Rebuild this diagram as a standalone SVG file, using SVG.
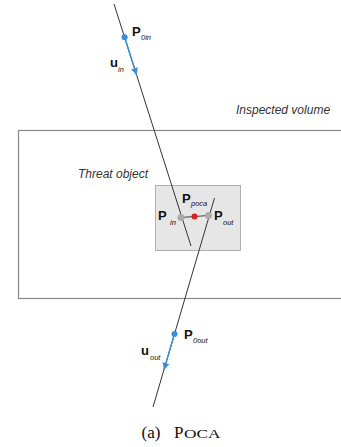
<svg xmlns="http://www.w3.org/2000/svg" width="341" height="447" viewBox="0 0 341 447">
<style>
.lbl{font-family:"Liberation Sans",Arial,sans-serif;font-weight:bold;font-size:13px;fill:#111}
.sub{font-family:"Liberation Sans",Arial,sans-serif;font-style:italic;font-size:7.5px;fill:#111}
.it{font-family:"Liberation Sans",Arial,sans-serif;font-style:italic;font-size:12px;fill:#333}
.track{stroke:#333;stroke-width:1;fill:none}
.dir{stroke:#3b8ed6;stroke-width:1.4;fill:none}
</style>
<defs>
<marker id="ah" viewBox="0 0 10 10" refX="10" refY="5" markerWidth="8" markerHeight="7" markerUnits="userSpaceOnUse" orient="auto">
<path d="M0,0 L10,5 L0,10 z" fill="#3b8ed6"/>
</marker>
</defs>
<g id="volume">
<rect x="18.5" y="130.5" width="340" height="168" fill="#fff" stroke="#888" stroke-width="1.2"/>
<text class="it" x="236" y="114">Inspected volume</text>
</g>
<g id="threat">
<rect x="155.5" y="185.5" width="85" height="65" fill="#e6e6e6" stroke="#b0b0b0" stroke-width="1"/>
<text class="it" x="78" y="178">Threat object</text>
</g>
<g id="connectors">
<line class="track" x1="114" y1="4" x2="191" y2="246"/>
<line class="track" x1="214.5" y1="198" x2="153" y2="407"/>
<line x1="181" y1="217.5" x2="208.5" y2="215.5" stroke="#444" stroke-width="1.2"/>
<line class="dir" x1="124.6" y1="37.3" x2="136.6" y2="75" marker-end="url(#ah)"/>
<line class="dir" x1="174.5" y1="334" x2="163.9" y2="370" marker-end="url(#ah)"/>
</g>
<g id="p0in">
<circle cx="124.6" cy="37.3" r="3" fill="#3b8ed6"/>
<text class="lbl" x="132" y="36">P</text><text class="sub" x="141" y="40">0in</text>
</g>
<g id="uin">
<text class="lbl" x="110" y="67">u</text><text class="sub" x="118" y="72">in</text>
</g>
<g id="pin">
<circle cx="181" cy="217.5" r="3.5" fill="#aaa"/>
<text class="lbl" x="158" y="220">P</text><text class="sub" x="170" y="225">in</text>
</g>
<g id="ppoca">
<circle cx="194.5" cy="216.5" r="3" fill="#d42020"/>
<text class="lbl" x="182" y="203">P</text><text class="sub" x="191" y="206">poca</text>
</g>
<g id="pout">
<circle cx="208.5" cy="215.5" r="3.5" fill="#aaa"/>
<text class="lbl" x="214" y="220">P</text><text class="sub" x="223" y="225">out</text>
</g>
<g id="p0out">
<circle cx="174.5" cy="334" r="3" fill="#3b8ed6"/>
<text class="lbl" x="184" y="339">P</text><text class="sub" x="193" y="343">0out</text>
</g>
<g id="uout">
<text class="lbl" x="141" y="355">u</text><text class="sub" x="150" y="360">out</text>
</g>
<g id="caption">
<text x="141.5" y="438" font-family="'Liberation Serif','Times New Roman',serif" font-size="17" fill="#111">(a)</text>
<text x="174" y="438" font-family="'Liberation Serif','Times New Roman',serif" font-size="17" fill="#111">P</text>
<text x="184" y="438" font-family="'Liberation Serif','Times New Roman',serif" font-size="13" fill="#111" textLength="36.5" lengthAdjust="spacingAndGlyphs">OCA</text>
</g>
</svg>
